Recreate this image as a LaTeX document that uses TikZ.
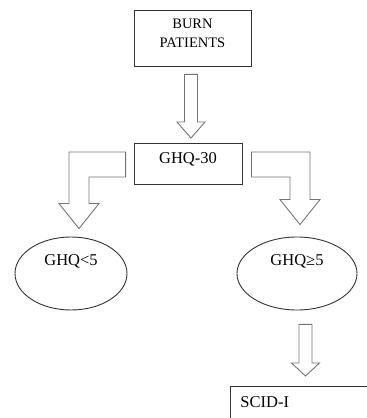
\documentclass[tikz,border=0pt]{standalone}
\usepackage{fontspec}
\setmainfont{Liberation Serif}
\usetikzlibrary{calc, shapes.geometric}

\newcommand{\blockarrow}[3]{%
  \draw[blockarrow] let \p1=(#1), \p2=(#2) in
    (\x1-6.5pt,\y1) -- (\x1+6.5pt,\y1) -- (\x1+6.5pt,\y2+#3pt) -- (\x1+14pt,\y2+#3pt)
    -- (\x1,\y2) -- (\x1-14pt,\y2+#3pt) -- (\x1-6.5pt,\y2+#3pt) -- cycle;}
\newcommand{\bentarrow}[2]{%
  \draw[blockarrow] let \p1=(#1), \p2=(#2), \n1={sign(\x2-\x1)} in
    (\x1,\y1+12.5pt) -- (\x2+\n1*10pt,\y1+12.5pt) -- (\x2+\n1*10pt,\y2+25pt)
    -- (\x2+\n1*20pt,\y2+25pt) -- (\x2,\y2) -- (\x2-\n1*20pt,\y2+25pt)
    -- (\x2-\n1*10pt,\y2+25pt) -- (\x2-\n1*10pt,\y1-12.5pt) -- (\x1,\y1-12.5pt) -- cycle;}

\begin{document}
\begin{tikzpicture}[x=1pt, y=1pt,
	box/.style={rectangle, draw=black!80, line width=0.9pt, font=\fontsize{16.5}{19}\selectfont},
	oval/.style={ellipse, draw=black!80, line width=0.9pt, font=\fontsize{16.5}{19}\selectfont},
	blockarrow/.style={draw=black!55, line width=0.9pt}]
	\path[use as bounding box] (0,0) rectangle (367,418);
	\clip (0,0) rectangle (367,418);

	\node[box, minimum width=117pt, minimum height=56pt, align=center, font=\fontsize{14.5}{19}\selectfont] (burn) at (192.5, 380) {BURN\\PATIENTS\\[-8.6pt]\mbox{}};
	\node[box, minimum width=108pt, minimum height=41pt, text height=11pt, text depth=10pt] (ghq) at (188, 254.5) {GHQ-30};
	\node[oval, minimum width=112pt, minimum height=73pt, text height=11pt, text depth=26pt] (low) at (71, 144.5) {GHQ<5};
	\node[oval, minimum width=120pt, minimum height=73pt, text height=11pt, text depth=26pt] (high) at (297, 144.5) {GHQ≥5};
	\node[box, anchor=north west, text width=140pt, align=left, inner xsep=10pt, inner ysep=10pt, text height=11pt, text depth=20pt] (scid) at (230, 32) {SCID-I};

	\blockarrow{$(burn.south)+(-1.5,-8)$}{$(ghq.north)+(3,4.5)$}{16}
	\bentarrow{$(ghq.west)+(-8,-1)$}{$(low.north)+(8,8)$}
	\bentarrow{$(ghq.east)+(9,-1)$}{$(high.north)+(3,12)$}
	\blockarrow{$(high.south)+(8.5,-14)$}{$(scid.north west)+(75.5,10)$}{13}
\end{tikzpicture}
\end{document}
